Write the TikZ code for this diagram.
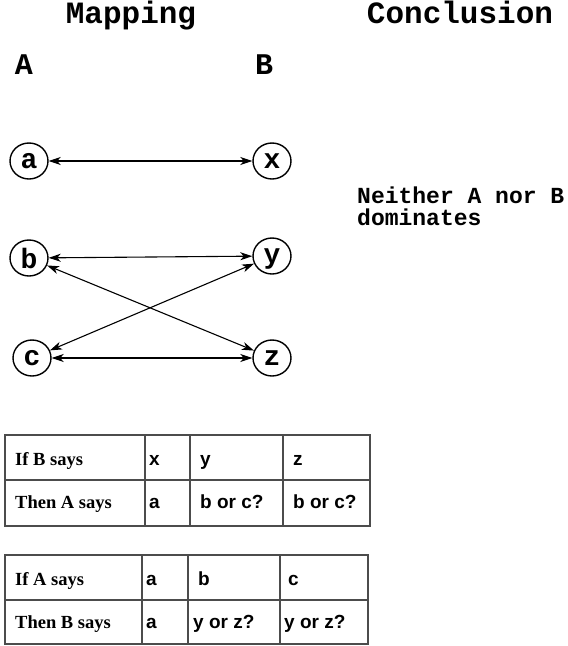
\documentclass[tikz,border=0pt]{standalone}
\usepackage{fontspec}
\usetikzlibrary{shapes.geometric,arrows.meta}
\newfontfamily\cour{Liberation Mono}
\newfontfamily\tms{Liberation Serif}
\newfontfamily\arl{Liberation Sans}
\begin{document}
\begin{tikzpicture}[x=1pt,y=-1pt,
  title/.style={font=\cour\bfseries\fontsize{31}{33}\selectfont, inner sep=0, anchor=base},
  side/.style={font=\cour\bfseries\fontsize{30}{32}\selectfont, inner sep=0, anchor=base},
  concl/.style={font=\cour\bfseries\fontsize{23}{25}\selectfont, inner sep=0, anchor=base west},
  vert/.style={draw, line width=1.4pt, ellipse, minimum width=38pt, minimum height=36pt, inner sep=0,
    font=\cour\bfseries\fontsize{28}{30}\selectfont},
  link/.style={line width=1.1pt, {Stealth[length=12pt,width=8pt,inset=3.5pt]}-{Stealth[length=12pt,width=8pt,inset=3.5pt]}},
  grid/.style={draw=black!70, line width=1.2pt},
  lab/.style={anchor=base west, inner sep=0, font=\tms\bfseries\fontsize{18.5}{20}\selectfont},
  cell/.style={anchor=base west, inner sep=0, font=\arl\bfseries\fontsize{19}{21}\selectfont}
]
\useasboundingbox (0,0) rectangle (568,646);
\node[title] (mapping) at (131,23) {Mapping};
\node[title] (concl) at (460,23) {Conclusion};
\node[side] (A) at (24,74) {A};
\node[side] (B) at (264,74) {B};

\node[vert] (a) at (29,161) {a};
\node[vert] (x) at (272,161) {x};
\node[vert] (b) at (29,258) {b};
\node[vert, text depth=0pt] (y) at (272,256) {y};
\node[vert] (c) at (32,358) {c};
\node[vert] (z) at (272,358) {z};

\draw[link] (a) -- (x);
\draw[link] (b) -- (y);
\draw[link] (c) -- (z);
\draw[link] (b) -- (z);
\draw[link] (c) -- (y);

\node[concl] (concl1) at (357,203) {Neither A nor B};
\node[concl] (concl2) at (357,225) {dominates};

% table 1
\draw[grid] (5,435) rectangle (370,526);
\draw[grid] (5,480) -- (370,480);
\draw[grid] (145,435) -- (145,526);
\draw[grid] (190,435) -- (190,526);
\draw[grid] (283,435) -- (283,526);
\node[lab] (t1a) at (15,465) {If B says};
\node[lab] (t1b) at (15,508) {Then A says};
\node[cell] (t1c) at (149,465) {x};
\node[cell] (t1d) at (200,465) {y};
\node[cell] (t1e) at (293,465) {z};
\node[cell] (t1f) at (149,508) {a};
\node[cell] (t1g) at (200,508) {b or c?};
\node[cell] (t1h) at (293,508) {b or c?};

% table 2
\draw[grid] (5,555) rectangle (368,644);
\draw[grid] (5,600) -- (368,600);
\draw[grid] (142,555) -- (142,644);
\draw[grid] (188,555) -- (188,644);
\draw[grid] (280,555) -- (280,644);
\node[lab] (t2a) at (15,585) {If A says};
\node[lab] (t2b) at (15,628) {Then B says};
\node[cell] (t2c) at (146,585) {a};
\node[cell] (t2d) at (198,585) {b};
\node[cell] (t2e) at (288,585) {c};
\node[cell] (t2f) at (146,628) {a};
\node[cell] (t2g) at (193,628) {y or z?};
\node[cell] (t2h) at (284,628) {y or z?};
\end{tikzpicture}
\end{document}
